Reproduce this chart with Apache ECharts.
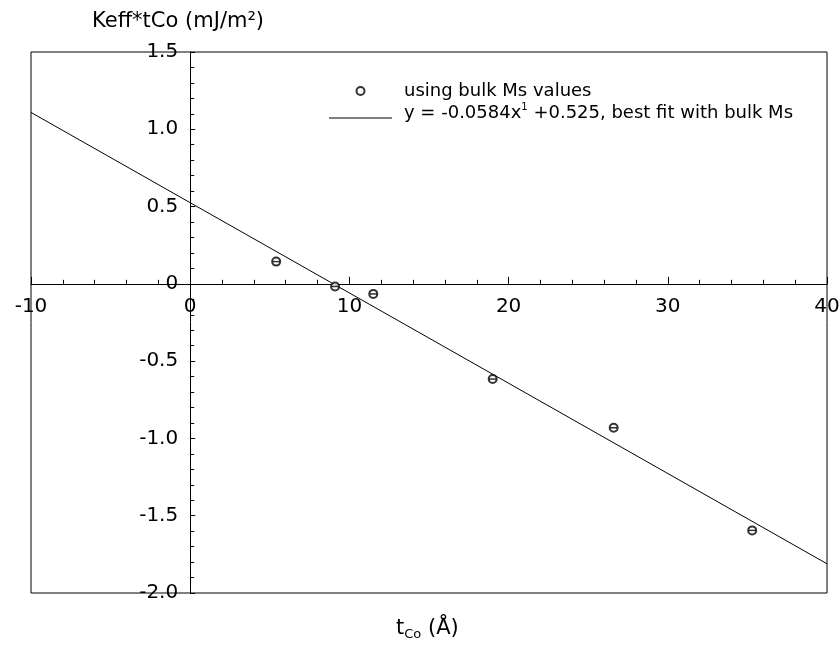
<!DOCTYPE html>
<html><head><meta charset="utf-8">
<script src="https://cdn.jsdelivr.net/npm/echarts@6/dist/echarts.min.js"></script>
<style>html,body{margin:0;padding:0;background:#fff}#c{width:839px;height:647px}</style>
</head><body><div id="c"></div>
<script>
const xTicks = [-10, 0, 10, 20, 30, 40];
const yTicks = [1.5, 1.0, 0.5, 0, -0.5, -1.0, -1.5, -2.0];
const tCo = [5.4, 9.1, 11.5, 19.0, 26.6, 35.3];
const keffTCo = [0.144, -0.017, -0.065, -0.616, -0.931, -1.595];
const fitX = [-10, 40];
const fitY = [1.109, -1.811];
const seriesNames = ['using bulk Ms values', 'fit'];

const pts = tCo.map((x, i) => [x, keffTCo[i]]);
const fit = fitX.map((x, i) => [x, fitY[i]]);
const FONT = '"DejaVu Sans", Verdana, sans-serif';

const W = 839, H = 647;
const G = {left: 31, right: 12, top: 52, bottom: 54};
const xMin = xTicks[0], xMax = xTicks[xTicks.length - 1];
const yMin = yTicks[yTicks.length - 1], yMax = yTicks[0];
const gw = W - G.left - G.right, gh = H - G.top - G.bottom;
const xAxisOffset = -(gh * (0 - yMin) / (yMax - yMin));
const yAxisOffset = -(gw * (0 - xMin) / (xMax - xMin));

const chart = echarts.init(document.getElementById('c'), null, {renderer: 'canvas'});
chart.setOption({
  animation: false,
  backgroundColor: '#fff',
  grid: Object.assign({show: true, borderColor: '#000', borderWidth: 1, outerBoundsMode: 'none', containLabel: false}, G),
  xAxis: {
    type: 'value', min: xMin, max: xMax, interval: 10, position: 'bottom', offset: xAxisOffset,
    axisLine: {onZero: false, lineStyle: {color: '#000', width: 1}},
    axisTick: {inside: true, length: 7, lineStyle: {color: '#000'}},
    minorTick: {show: true, splitNumber: 5, length: 4, lineStyle: {color: '#000'}},
    splitLine: {show: false},
    axisLabel: {color: '#000', fontFamily: FONT, fontSize: 20, margin: 13, showMinLabel: true, showMaxLabel: true}
  },
  yAxis: {
    type: 'value', min: yMin, max: yMax, interval: 0.5, position: 'left', offset: yAxisOffset,
    axisLine: {onZero: false, lineStyle: {color: '#000', width: 1}},
    axisTick: {inside: true, length: 5, lineStyle: {color: '#000'}},
    minorTick: {show: true, splitNumber: 5, length: 4, lineStyle: {color: '#000'}},
    splitLine: {show: false},
    axisLabel: {color: '#000', fontFamily: FONT, fontSize: 20, margin: 12,
      formatter: v => (Math.abs(v) < 1e-9 ? '0' : v.toFixed(1)), showMinLabel: true, showMaxLabel: true}
  },
  legend: {
    orient: 'vertical', left: 324, top: 77, itemWidth: 63, itemHeight: 8, itemGap: 2,
    selectedMode: false,
    data: [
      {name: seriesNames[0], icon: 'emptyCircle'},
      {name: seriesNames[1], icon: 'path://M0,0L0.01,0L0,0.01Z M0,8L0.01,8L0,7.99Z M0,3.5H63V4.6H0Z'}
    ],
    formatter: n => n === seriesNames[0] ? n : '{a|y = -0.0584x}{sup|1}{a| +0.525, best fit with bulk Ms}',
    textStyle: {color: '#000', fontFamily: FONT, fontSize: 18, padding: [0, 0, 0, 7],
      rich: {
        a: {fontSize: 18, fontFamily: FONT, color: '#000', padding: [0, 0, 9, 0]},
        sup: {fontSize: 10, fontFamily: FONT, color: '#000', padding: [0, 0, 22, 0]}
      }}
  },
  series: [
    {
      name: seriesNames[1], type: 'line', data: fit, symbol: 'none',
      lineStyle: {color: '#000', width: 1}, itemStyle: {color: '#000'}, z: 3
    },
    {
      name: seriesNames[0], type: 'scatter', data: pts, symbol: 'emptyCircle', symbolSize: 8,
      itemStyle: {color: '#000', borderColor: '#000', borderWidth: 1.5}, z: 4
    },
    {
      name: 'bar', type: 'scatter', data: pts, symbol: 'rect', symbolSize: [7, 1.5],
      itemStyle: {color: '#000'}, silent: true, z: 5
    }
  ],
  graphic: [
    {type: 'text', left: 92, top: 11, style: {text: 'Keff*tCo (mJ/m²)', font: '21px ' + FONT, fill: '#000'}},
    {type: 'text', left: 396, top: 618, style: {
      text: '{t|t}{s|Co}{t| (Å)}', fill: '#000',
      rich: {t: {fontSize: 21, fontFamily: FONT, fill: '#000'}, s: {fontSize: 13, fontFamily: FONT, padding: [13, 0, 0, 0], fill: '#000'}}
    }}
  ]
});
</script></body></html>
